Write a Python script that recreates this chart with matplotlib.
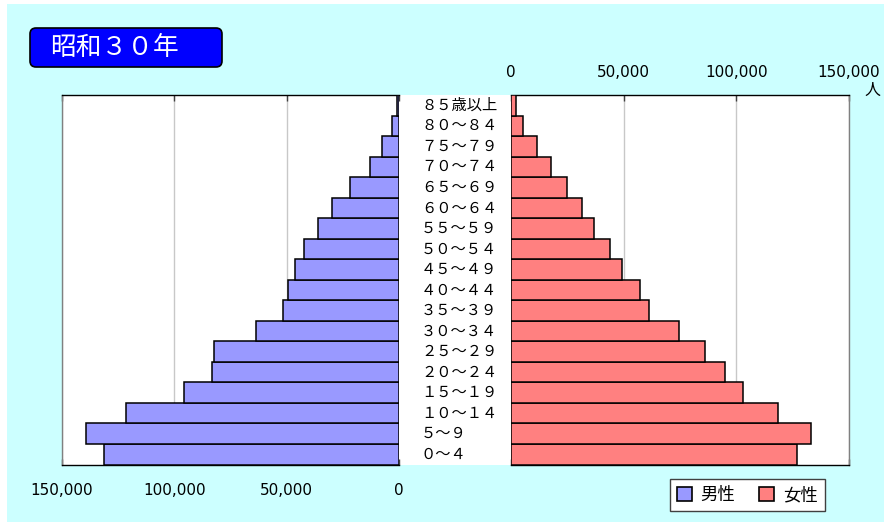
import matplotlib
matplotlib.use("Agg")
import matplotlib.pyplot as plt
from matplotlib.patches import Rectangle, FancyBboxPatch, Patch
from matplotlib.transforms import IdentityTransform, blended_transform_factory

plt.rcParams['font.family'] = ['Noto Sans CJK JP', 'DejaVu Sans']

title = "昭和３０年"
age_groups = ["０～４", "５～９", "１０～１４", "１５～１９", "２０～２４", "２５～２９",
              "３０～３４", "３５～３９", "４０～４４", "４５～４９", "５０～５４", "５５～５９",
              "６０～６４", "６５～６９", "７０～７４", "７５～７９", "８０～８４", "８５歳以上"]
male = [131200, 139100, 121600, 95800, 83200, 82300, 63500, 51700, 49300, 46300,
        42300, 36100, 29800, 21900, 13200, 7700, 3100, 800]
female = [127100, 133400, 118600, 102900, 95100, 86300, 74500, 61200, 57300, 49500,
          44000, 36900, 31400, 25000, 17900, 11700, 5500, 2200]
ticks = [0, 50000, 100000, 150000]
tick_labels = ["0", "50,000", "100,000", "150,000"]
legend_labels = ["男性", "女性"]

male_color = "#9999FF"
female_color = "#FF8080"
bg = "#CCFFFF"

W, H = 884, 522
fig = plt.figure(figsize=(W / 100, H / 100), dpi=100)
fig.patch.set_facecolor("white")
fig.patches.append(Rectangle((7, 0), W, H - 4, transform=IdentityTransform(),
                             facecolor=bg, edgecolor="none", zorder=-10))

top_px, bot_px = 95, 464.5
y0 = 1 - bot_px / H
hh = (bot_px - top_px) / H
lx0, lx1 = 61.7, 399.3
rx0, rx1 = 511, 848.7

# center label area
fig.patches.append(Rectangle((lx1, H - bot_px), rx0 - lx1, bot_px - top_px,
                             transform=IdentityTransform(), facecolor="white",
                             edgecolor="none", zorder=-5))

axL = fig.add_axes([lx0 / W, y0, (lx1 - lx0) / W, hh])
axR = fig.add_axes([rx0 / W, y0, (rx1 - rx0) / W, hh])

ypos = list(range(len(age_groups)))
axL.barh(ypos, male, height=1.0, color=male_color, edgecolor="black", linewidth=1.1, zorder=3)
axR.barh(ypos, female, height=1.0, color=female_color, edgecolor="black", linewidth=1.1, zorder=3)

for ax in (axL, axR):
    ax.set_xlim(0, 150000)
    ax.set_ylim(-0.5, len(age_groups) - 0.5)
    ax.set_yticks([])
    ax.set_xticks(ticks)
    ax.set_xticklabels(tick_labels, fontfamily="DejaVu Sans")
    ax.grid(axis="x", color="#C8C8C8", linewidth=1.0, zorder=0)
    ax.set_facecolor("white")
    ax.tick_params(axis="x", direction="in", length=4, width=1, color="#404040",
                   top=True, bottom=True, labelsize=11)
    for s in ax.spines.values():
        s.set_linewidth(1.0)

axL.invert_xaxis()
axL.tick_params(axis="x", labeltop=False, labelbottom=True, pad=13)
axL.spines["right"].set_visible(False)
axL.spines["left"].set_color("#808080")
axL.spines["top"].set_color("black")
axL.spines["bottom"].set_color("black")

axR.tick_params(axis="x", labeltop=True, labelbottom=False, pad=11)
axR.spines["left"].set_visible(False)
axR.spines["right"].set_color("#808080")
axR.spines["top"].set_color("black")
axR.spines["bottom"].set_color("black")

# age labels in the centre
tr = blended_transform_factory(fig.transFigure, axR.transData)
for i, lab in enumerate(age_groups):
    fig.text(421 / W, i, lab, transform=tr, ha="left", va="center", fontsize=11, color="black")

# unit
fig.text(872 / W, 1 - 90 / H, "人", ha="center", va="center", fontsize=11.5)

# title box
fig.patches.append(FancyBboxPatch((30, H - 67), 192, 39,
                                  boxstyle="round,pad=0,rounding_size=6",
                                  transform=IdentityTransform(), facecolor="#0000FF",
                                  edgecolor="black", linewidth=1.2))
fig.text(50 / W, 1 - 48 / H, title, ha="left", va="center", fontsize=18.5, color="white")

# legend
handles = [Patch(facecolor=male_color, edgecolor="black", linewidth=1.2),
           Patch(facecolor=female_color, edgecolor="black", linewidth=1.2)]
leg = fig.legend(handles, legend_labels, loc="upper left",
                 bbox_to_anchor=(670 / W, 1 - 479 / H), ncol=2, fontsize=12.5,
                 frameon=True, fancybox=False, edgecolor="#404040", framealpha=1,
                 handlelength=0.85, handleheight=0.85, handletextpad=0.5,
                 columnspacing=1.4, borderpad=0.4, borderaxespad=0)
leg.get_frame().set_linewidth(1.0)

fig.savefig("out.png", dpi=100, facecolor=fig.get_facecolor())
